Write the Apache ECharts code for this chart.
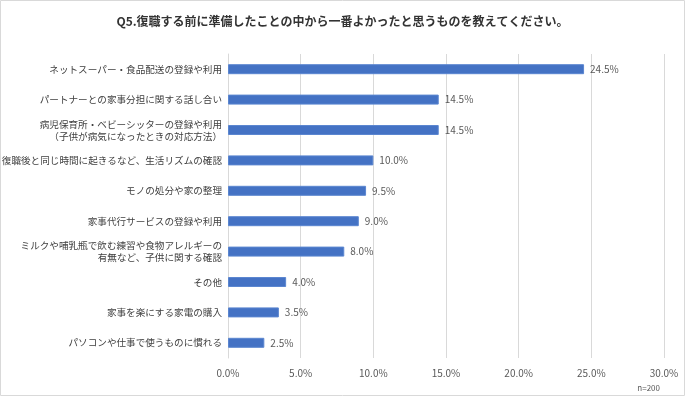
<!DOCTYPE html>
<html><head><meta charset="utf-8">
<script src="https://cdn.jsdelivr.net/npm/echarts@6/dist/echarts.min.js"></script>
<style>html,body{margin:0;padding:0;background:#fff}#c{width:685px;height:396px}</style>
</head><body><div id="c"></div>
<script>
const titleText = "Q5.復職する前に準備したことの中から一番よかったと思うものを教えてください。";
const categories = [
  "ネットスーパー・食品配送の登録や利用",
  "パートナーとの家事分担に関する話し合い",
  "病児保育所・ベビーシッターの登録や利用\n（子供が病気になったときの対応方法）",
  "復職後と同じ時間に起きるなど、生活リズムの確認",
  "モノの処分や家の整理",
  "家事代行サービスの登録や利用",
  "ミルクや哺乳瓶で飲む練習や食物アレルギーの\n有無など、子供に関する確認",
  "その他",
  "家事を楽にする家電の購入",
  "パソコンや仕事で使うものに慣れる"
];
const values = [24.5, 14.5, 14.5, 10.0, 9.5, 9.0, 8.0, 4.0, 3.5, 2.5];
const xTicks = [0, 5, 10, 15, 20, 25, 30];
const noteText = "n=200";

const font = '"Noto Sans CJK JP", "Noto Sans", sans-serif';
const chart = echarts.init(document.getElementById('c'));
chart.setOption({
  animation: false,
  textStyle: { fontFamily: font },
  title: {
    text: titleText, left: 'center', top: 10,
    textStyle: { fontSize: 12, fontWeight: 'bold', color: '#333333', fontFamily: font }
  },
  graphic: [
    { type: 'rect', shape: { x: 0.5, y: 0.5, width: 684, height: 395 },
      style: { fill: 'none', stroke: '#d9d9d9', lineWidth: 1 }, silent: true },
    { type: 'text', right: 25, top: 384,
      style: { text: noteText, fontSize: 8, fill: '#595959', fontFamily: font } }
  ],
  grid: { left: 228, right: 21, top: 54, bottom: 38, containLabel: false, outerBoundsMode: 'none' },
  xAxis: {
    type: 'value', min: xTicks[0], max: xTicks[xTicks.length - 1], interval: 5,
    axisLine: { show: false }, axisTick: { show: false },
    splitLine: { lineStyle: { color: '#d9d9d9', width: 1 } },
    axisLabel: { formatter: v => v.toFixed(1) + '%', fontSize: 10, color: '#595959', margin: 10, fontFamily: font }
  },
  yAxis: {
    type: 'category', data: categories, inverse: true,
    axisLine: { show: true, lineStyle: { color: '#d9d9d9' } },
    axisTick: { show: false },
    axisLabel: { fontSize: 9.6, color: '#404040', margin: 6, lineHeight: 12, fontFamily: font }
  },
  series: [{
    type: 'bar', data: values, barWidth: 10,
    itemStyle: { color: '#4472C4', borderColor: '#5b86d0', borderWidth: 1 },
    label: { show: true, position: 'right', distance: 6, formatter: p => p.value.toFixed(1) + '%',
      fontSize: 10, color: '#595959', fontFamily: font }
  }]
});
</script></body></html>
